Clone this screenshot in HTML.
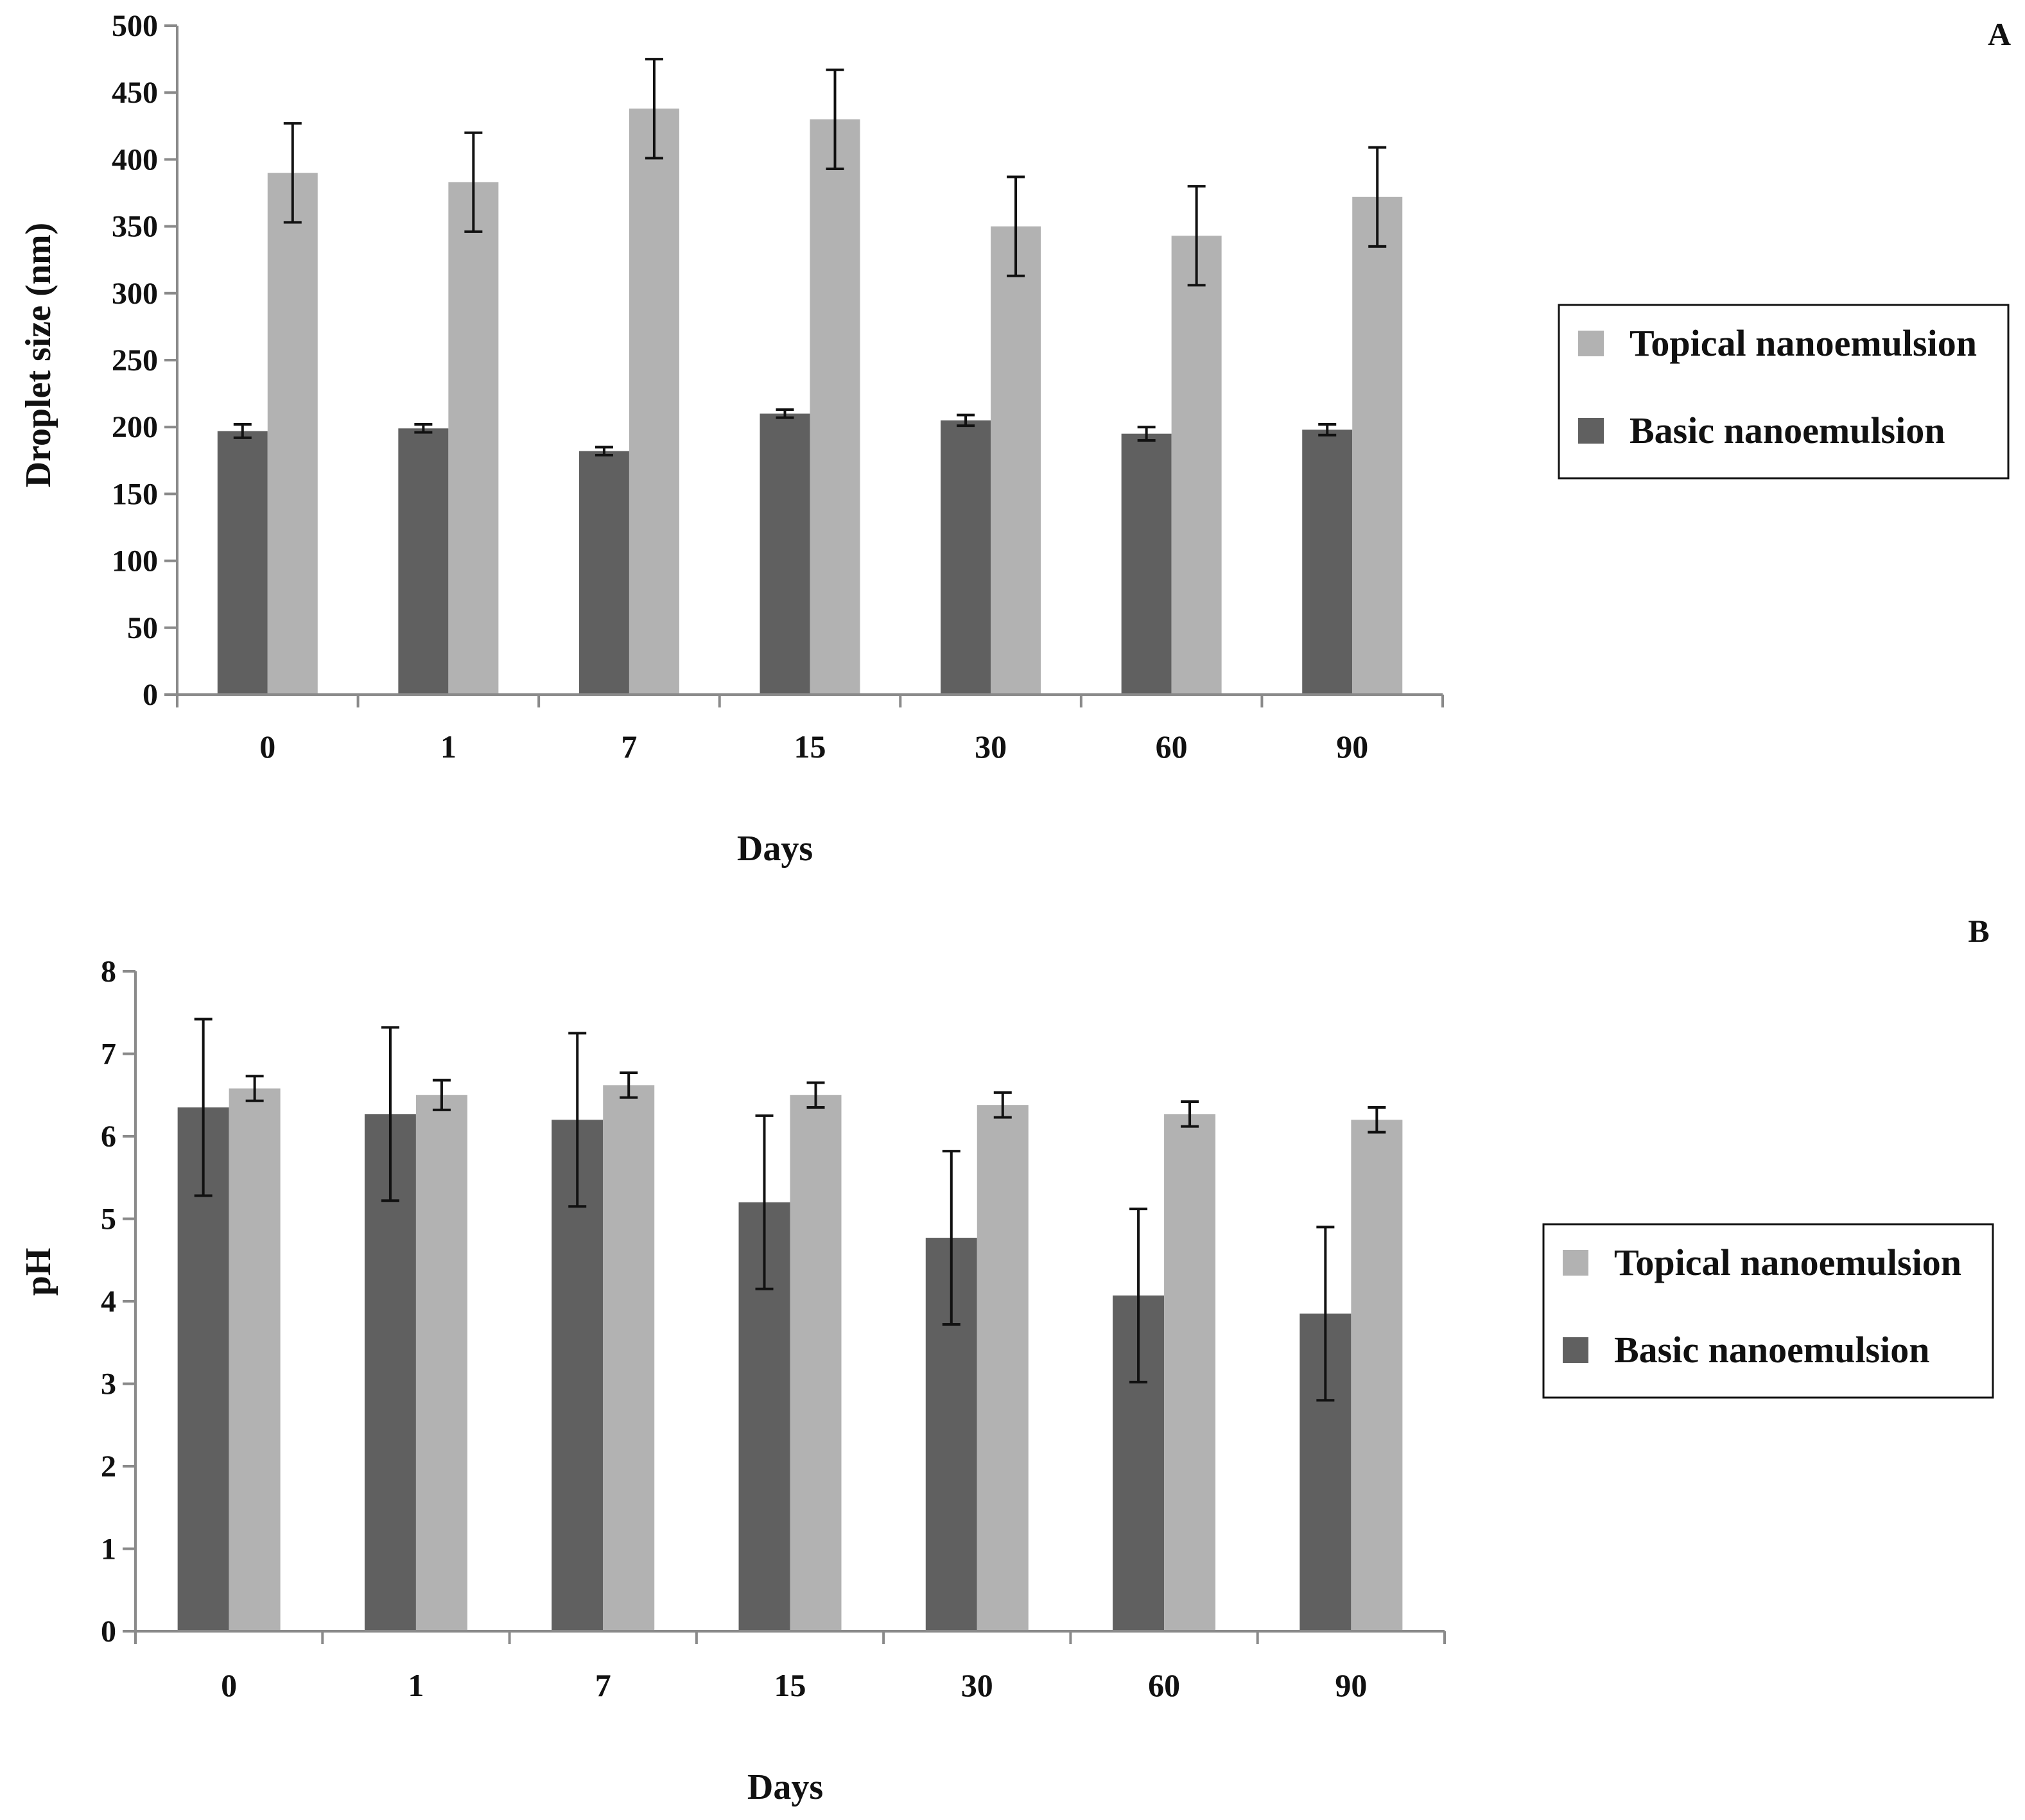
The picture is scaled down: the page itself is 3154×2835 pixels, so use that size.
<!DOCTYPE html>
<html><head><meta charset="utf-8"><style>
html,body{margin:0;padding:0;background:#fff;}
svg{display:block;}
text{font-family:"Liberation Serif",serif;font-weight:bold;fill:#111;}
</style></head><body>
<svg id="chart" width="3154" height="2835" viewBox="0 0 3154 2835" xmlns="http://www.w3.org/2000/svg"></svg>
<script>
const categories = ["0","1","7","15","30","60","90"];
const basicSize = [197,199,182,210,205,195,198];
const basicSizeErr = [5,3,3,3,4,5,4];
const topicalSize = [390,383,438,430,350,343,372];
const topicalSizeErr = [37,37,37,37,37,37,37];
const sizeTicks = [0,50,100,150,200,250,300,350,400,450,500];
const basicPH = [6.35,6.27,6.2,5.2,4.77,4.07,3.85];
const basicPHErr = [1.07,1.05,1.05,1.05,1.05,1.05,1.05];
const topicalPH = [6.58,6.5,6.62,6.5,6.38,6.27,6.2];
const topicalPHErr = [0.15,0.18,0.15,0.15,0.15,0.15,0.15];
const phTicks = [0,1,2,3,4,5,6,7,8];

const NS="http://www.w3.org/2000/svg";
const svg=document.getElementById('chart');
function mk(tag,attrs,parent){const e=document.createElementNS(NS,tag);for(const k in attrs)e.setAttribute(k,attrs[k]);(parent||svg).appendChild(e);return e;}

function drawPanel(o){
  const g=mk('g',{});
  
  
  const yS=v=>o.y0-(v-o.vmin)/(o.vmax-o.vmin)*(o.y0-o.y1);
  const cw=(o.x1-o.x0)/categories.length;
  const bw=o.bw;
  categories.forEach((c,i)=>{
    const cx=o.x0+cw*(i+0.5);
    const series=[[o.basic,o.basicErr,'#606060','basic'],[o.topical,o.topicalErr,'#b2b2b2','topical']];
    series.forEach((s,j)=>{
      const x=j===0?cx-bw:cx;
      const v=s[0][i];
      const r=mk('rect',{x:x,y:yS(v),width:bw,height:o.y0-yS(v),fill:s[2]},g);
      
      
    });
    series.forEach((s,j)=>{
      const bx=(j===0?cx-bw:cx)+bw/2;
      const v=s[0][i],e=s[1][i];
      const eg=mk('g',{stroke:'#111','stroke-width':4},g);
      
      
      mk('line',{x1:bx,x2:bx,y1:yS(v+e),y2:yS(v-e)},eg);
      mk('line',{x1:bx-14,x2:bx+14,y1:yS(v+e),y2:yS(v+e)},eg);
      mk('line',{x1:bx-14,x2:bx+14,y1:yS(v-e),y2:yS(v-e)},eg);
    });
    const t=mk('text',{x:cx,y:o.tickLabelY,'font-size':50,'text-anchor':'middle'},g);
    t.textContent=c;
    
    
  });
  const ax=mk('g',{stroke:'#8a8a8a','stroke-width':4,fill:'none'},g);
  
  
  mk('line',{x1:o.x0,x2:o.x0,y1:o.y1,y2:o.y0+20},ax);
  mk('line',{x1:o.x0-20,x2:o.x1,y1:o.y0,y2:o.y0},ax);
  for(let i=1;i<=categories.length;i++){const x=o.x0+cw*i;mk('line',{x1:x,x2:x,y1:o.y0,y2:o.y0+20},ax);}
  o.ticks.forEach(v=>{
    const y=yS(v);
    mk('line',{x1:o.x0-20,x2:o.x0,y1:y,y2:y},ax);
    const t=mk('text',{x:o.x0-30,y:y+16,'font-size':48,'text-anchor':'end'},g);
    t.textContent=v;
    
    
  });
  const yt=mk('text',{x:0,y:0,'font-size':56,'text-anchor':'middle',transform:`translate(${o.ytx},${o.yty}) rotate(-90)`},g);
  yt.textContent=o.ytitle;
  
  
  const xt=mk('text',{x:o.xtx,y:o.xty,'font-size':56,'text-anchor':'middle'},g);
  xt.textContent='Days';
  
  
  const pl=mk('text',{x:o.plx,y:o.ply,'font-size':50,'text-anchor':'middle'},g);
  pl.textContent=o.panel;
  
  
  const lg=mk('g',{},g);
  
  
  mk('rect',{x:o.lx,y:o.ly,width:700,height:270,fill:'#fff',stroke:'#111','stroke-width':3},lg);
  [['Topical nanoemulsion','#b2b2b2',60],['Basic nanoemulsion','#606060',196]].forEach(([lab,col,dy])=>{
    const e=mk('g',{},lg);
    
    
    mk('rect',{x:o.lx+30,y:o.ly+dy-20,width:40,height:40,fill:col},e);
    const t=mk('text',{x:o.lx+110,y:o.ly+dy+19,'font-size':58},e);
    t.textContent=lab;
  });
}

drawPanel({name:'droplet-size-chart',x0:276,x1:2247,y0:1082,y1:40,vmin:0,vmax:500,bw:78,
  basic:basicSize,basicErr:basicSizeErr,topical:topicalSize,topicalErr:topicalSizeErr,ticks:sizeTicks,
  tickLabelY:1180,ytitle:'Droplet size (nm)',ytx:78,yty:553,xtx:1207,xty:1340,plx:3114,ply:70,panel:'A',lx:2428,ly:475});
drawPanel({name:'ph-chart',x0:211,x1:2250,y0:2541,y1:1513,vmin:0,vmax:8,bw:80,
  basic:basicPH,basicErr:basicPHErr,topical:topicalPH,topicalErr:topicalPHErr,ticks:phTicks,
  tickLabelY:2642,ytitle:'pH',ytx:78,yty:1981,xtx:1223,xty:2802,plx:3082,ply:1467,panel:'B',lx:2404,ly:1907});
</script>
</body></html>
